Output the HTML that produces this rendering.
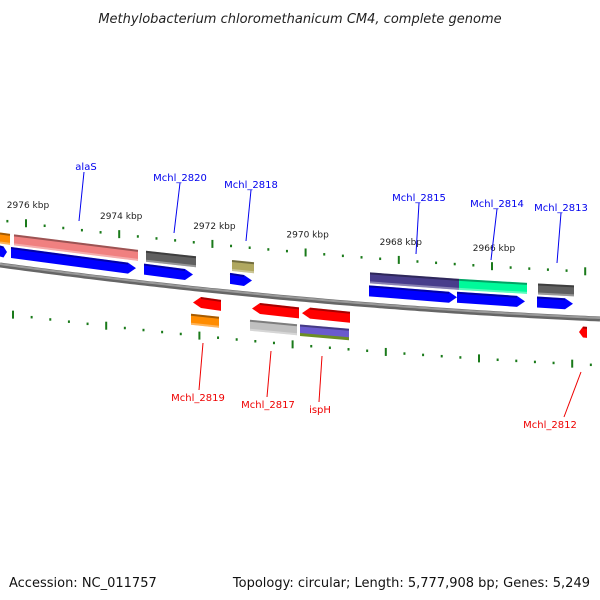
<!DOCTYPE html>
<html><head><meta charset="utf-8"><style>
body{margin:0;background:#fff}
svg{display:block;font-family:"DejaVu Sans","Liberation Sans",sans-serif}
</style></head><body>
<svg id="map" width="600" height="600" viewBox="0 0 600 600">
<rect width="600" height="600" fill="#fff"/>
<text x="300" y="23" text-anchor="middle" font-size="13" font-style="italic" fill="#222">Methylobacterium chloromethanicum CM4, complete genome</text>
<text x="9" y="587" font-size="13" fill="#111">Accession: NC_011757</text>
<text x="590" y="587" text-anchor="end" font-size="13" fill="#111">Topology: circular; Length: 5,777,908 bp; Genes: 5,249</text>
<g id="g"></g>
</svg>
<script>
const tickKbp=[2976,2974,2972,2970,2968,2966,2964];
const upperGenes=[[0,7],[11,136],[144,193],[230,252],[369,457],[457,525],[537,573]];
const upperFeatures=[[0,10,"#ff8c00"],[14,138,"#f08080"],[146,196,"#606060"],[232,254,"#b0a860"],[370,459,"#483d8b"],[459,527,"#00fa9a"],[538,574,"#606060"]];
const lowerGenes=[[193,221],[252,299],[302,350],[579,587]];
const lowerFeatures=[[191,219,"#ff8c00"],[250,297,"#c0c0c0"],[300,349,"#6a5acd"]];
const upperLabels=[["alaS",86,166,84,172,79,221],["Mchl_2820",180,177,180,183,174,233],["Mchl_2818",251,184,251,190,246,241],["Mchl_2815",419,197,419,203,416,254],["Mchl_2814",497,203,497,209,491,260],["Mchl_2813",561,207,561,213,557,263]];
const lowerLabels=[["Mchl_2819",198,397,203,343,199,390],["Mchl_2817",268,404,271,351,267,397],["ispH",320,409,322,356,319,402],["Mchl_2812",550,424,581,372,564,417]];
const NS="http://www.w3.org/2000/svg",G=document.getElementById('g');
function q(x,a,c,b){const t=x/600;return a*(1-t)*(1-t)+2*c*t*(1-t)+b*t*t;}
const base=x=>q(x,265,306,319), upT=x=>q(x,220,258,272), loT=x=>q(x,313,351,365);
const kx=k=>26+(2976-k)*46.6;
function el(tag,attrs,parent){const e=document.createElementNS(NS,tag);for(const k in attrs)e.setAttribute(k,attrs[k]);(parent||G).appendChild(e);return e;}
// backbone
let d="M0,"+base(0);for(let x=5;x<=600;x+=5)d+=" L"+x+","+base(x).toFixed(1);
let bb=el('path',{d:d,stroke:'#666',"stroke-width":5,fill:'none'});


el('path',{d:d,stroke:'#9a9a9a',"stroke-width":2,fill:'none',transform:'translate(0,-1)'});
// ticks
function ticks(fn,shift,row){
 for(let i=-1;i<tickKbp.length;i++){
  const k0=i<0?tickKbp[0]+2:tickKbp[i];
  for(let j=0;j<5;j++){
   const x=kx(k0)-shift+j*18.64; if(x<0||x>600)continue;
   const y=fn(x);
   const t=j==0?el('rect',{x:x-1,y:y-4,width:2,height:8,fill:'#1a7a1a'}):el('rect',{x:x-1,y:y-1,width:2,height:2.5,fill:'#1a7a1a'});
   
   
  }
 }
}
ticks(upT,0,'upper');ticks(loT,13,'lower');
tickKbp.slice(0,6).forEach(k=>{const x=kx(k);
 const t=el('text',{x:x+2,y:upT(x)-15,"text-anchor":"middle","font-size":9,fill:'#222'});t.textContent=k+" kbp";
 
 });
function arrow(x0,x1,off,h,dir,fill,name){
 const a=base(x0)+off,b=base(x1)+off,hd=Math.min(8,(x1-x0)/2);let p;
 if(dir>0)p=[[x0,a-h/2],[x1-hd,b-h/2],[x1,b],[x1-hd,b+h/2],[x0,a+h/2]];
 else p=[[x0+hd,a-h/2],[x1,b-h/2],[x1,b+h/2],[x0+hd,a+h/2],[x0,a]];
 const e=el('polygon',{points:p.map(v=>v.join(',')).join(' '),fill:fill});
 
 
 el('line',{x1:p[0][0],y1:p[0][1]+1,x2:p[1][0],y2:p[1][1]+1,stroke:'rgba(0,0,0,0.35)',"stroke-width":2});
 return e;
}
function box(x0,x1,off,h,fill,name){
 const a=base(x0)+off,b=base(x1)+off;
 const e=el('polygon',{points:`${x0},${a-h/2} ${x1},${b-h/2} ${x1},${b+h/2} ${x0},${a+h/2}`,fill:fill});
 
 
 el('line',{x1:x0,y1:a-h/2+1,x2:x1,y2:b-h/2+1,stroke:'rgba(0,0,0,0.35)',"stroke-width":2});
 el('line',{x1:x0,y1:a+h/2-1,x2:x1,y2:b+h/2-1,stroke:'rgba(255,255,255,0.35)',"stroke-width":2});
}
upperGenes.forEach(g=>arrow(g[0],g[1],-14,11,1,'#0000ff','forward-gene'));
upperFeatures.forEach(f=>box(f[0],f[1],-27,11,f[2],'forward-feature'));
lowerGenes.forEach(g=>arrow(g[0],g[1],14,11,-1,'#ff0000','reverse-gene'));
lowerFeatures.forEach(f=>box(f[0],f[1],31,11,f[2],'reverse-feature'));
// olive lower half of ispH feature
{const x0=300,x1=349,a=base(x0)+34,b=base(x1)+34;
 const e=el('polygon',{points:`${x0},${a} ${x1},${b} ${x1},${b+3} ${x0},${a+3}`,fill:'#6b8e23'});
 
 }
function labels(arr,col,name){arr.forEach(l=>{
 const ln=el('line',{x1:l[3],y1:l[4],x2:l[5],y2:l[6],stroke:col,"stroke-width":1});
 
 
 const t=el('text',{x:l[1],y:l[2]+4,"text-anchor":"middle","font-size":10,fill:col});t.textContent=l[0];
 
 });}
labels(upperLabels,'#0000ee','gene-label');
labels(lowerLabels,'#ee0000','gene-label');
</script>
</body></html>
